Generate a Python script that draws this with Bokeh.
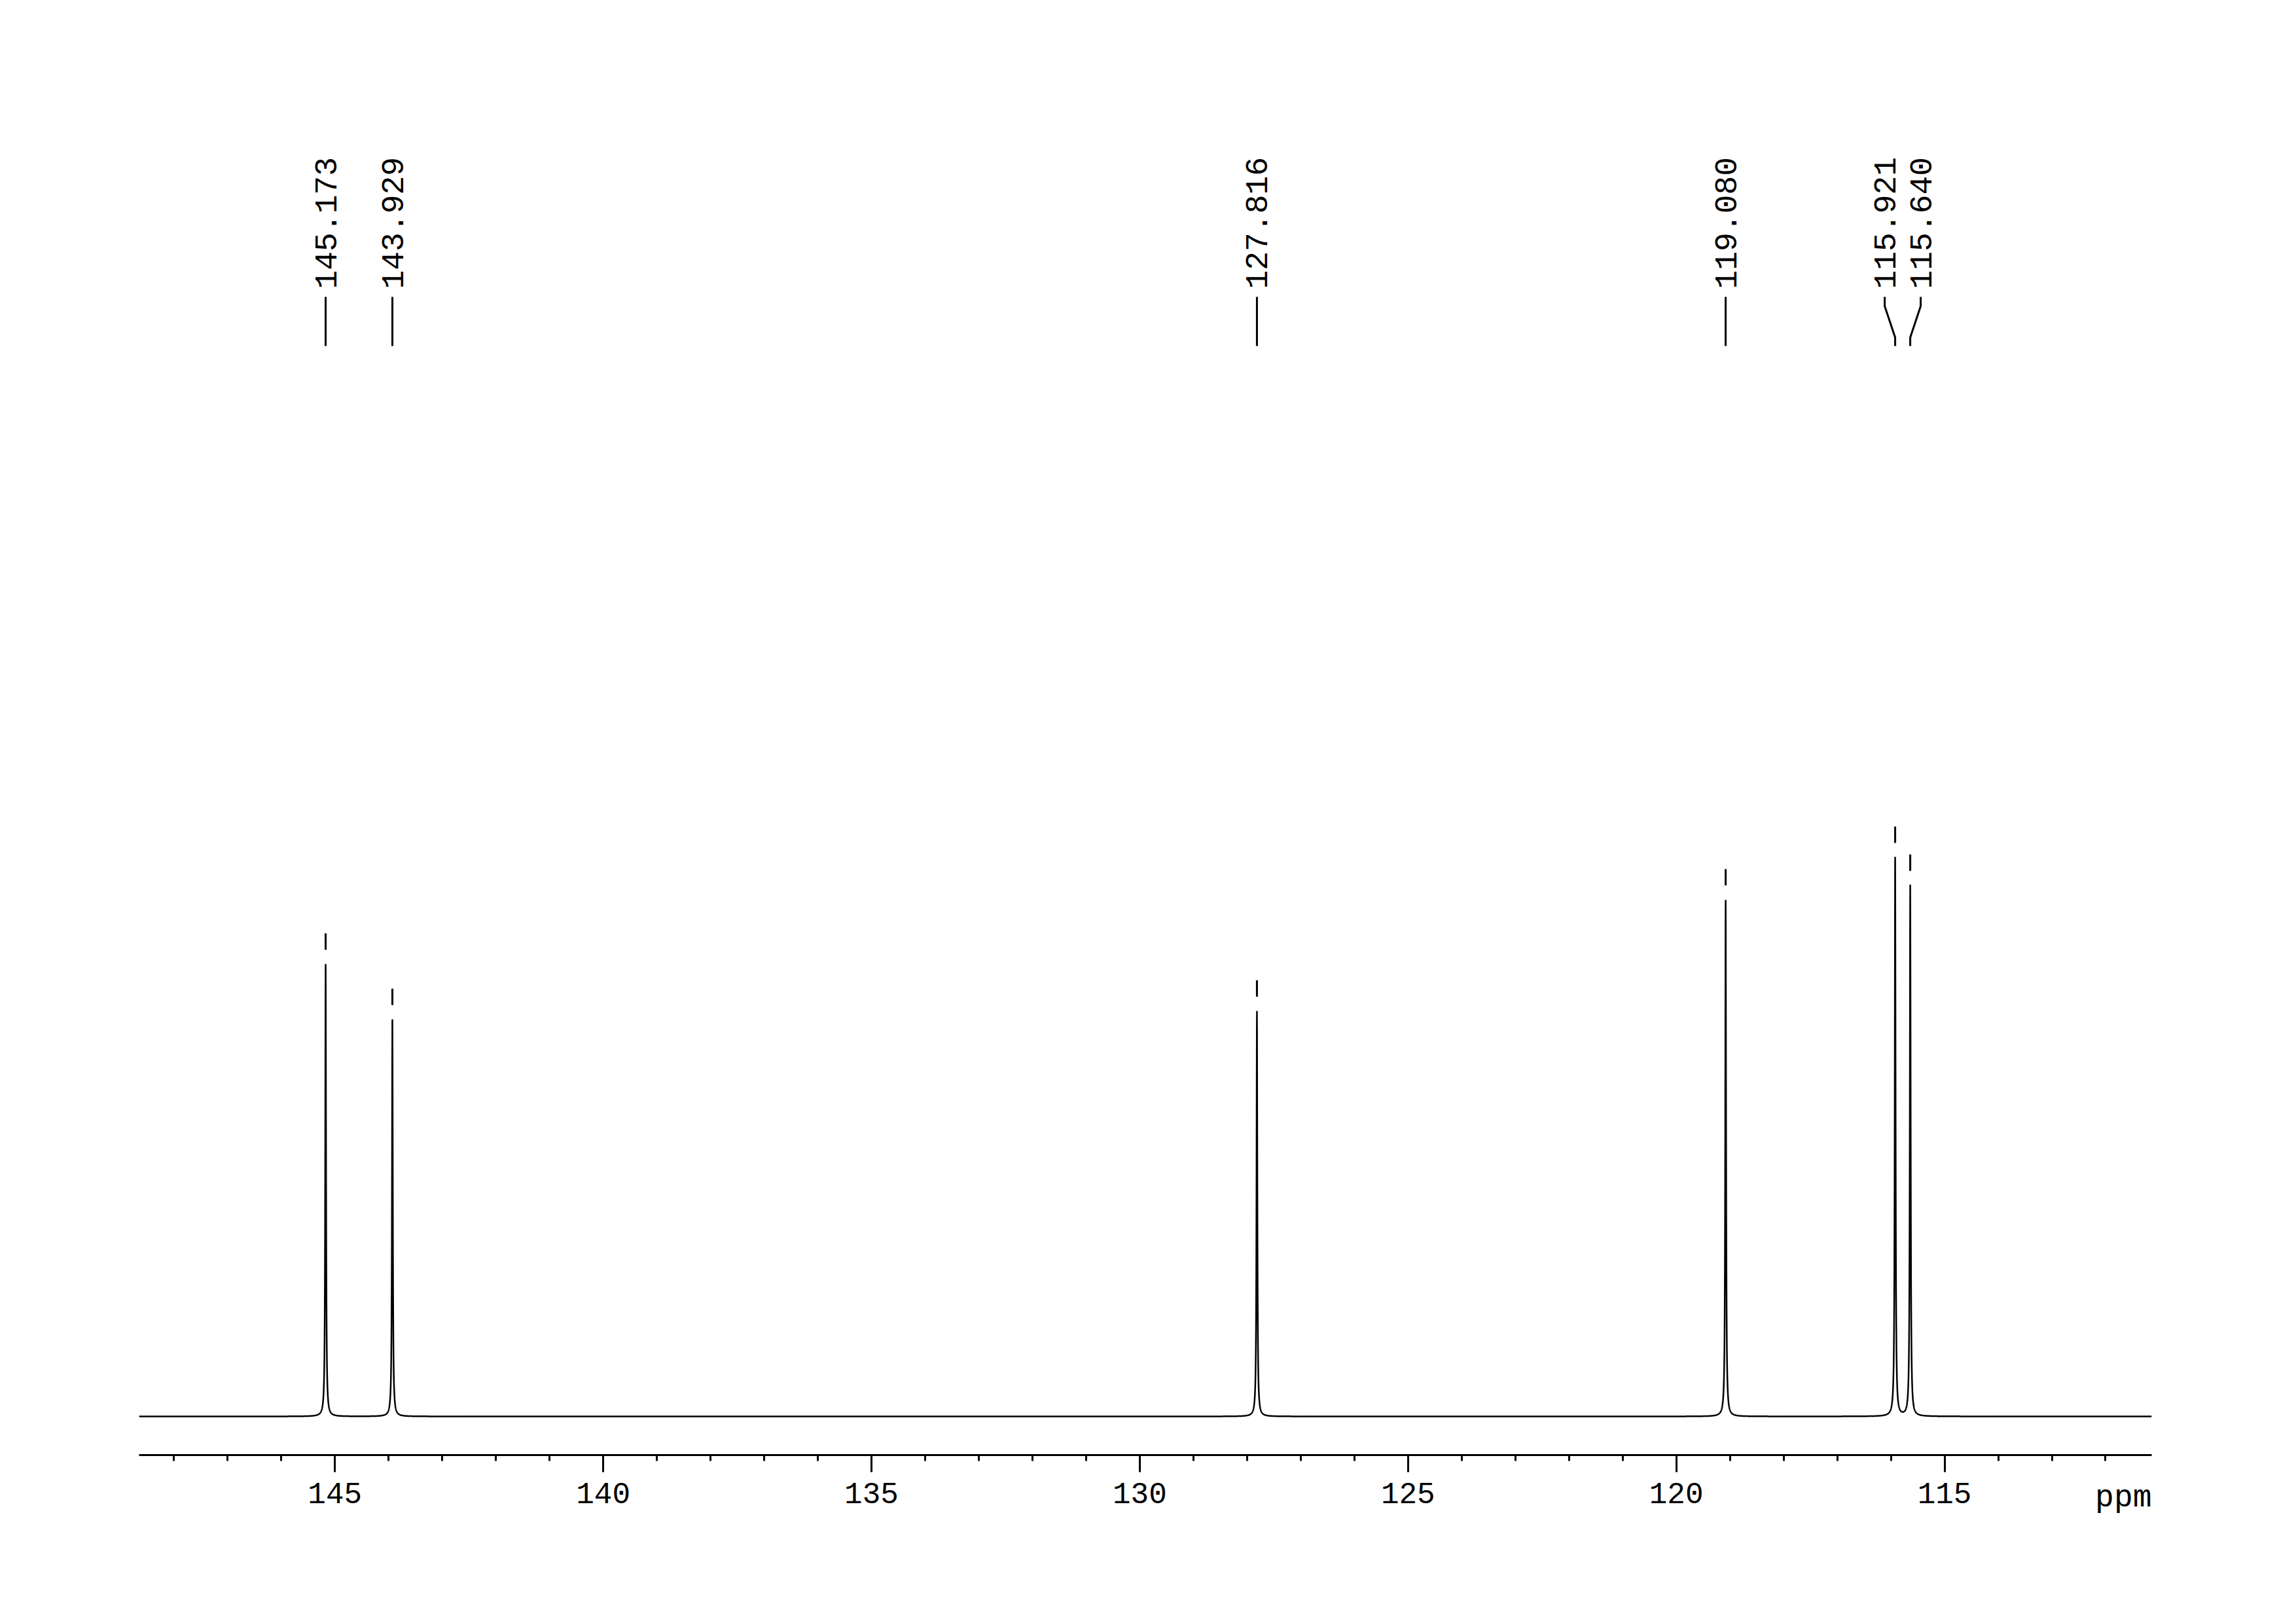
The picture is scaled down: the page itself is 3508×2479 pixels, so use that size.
import numpy as np
from bokeh.plotting import figure
from bokeh.models import Range1d, FixedTicker
from bokeh.core.properties import value
from bokeh.embed import file_html
from bokeh.resources import INLINE

# ---------------- data ----------------
peak_ppm = [145.173, 143.929, 127.816, 119.080, 115.921, 115.640]
peak_height = [80.9, 71.0, 72.5, 92.4, 100.0, 95.0]   # relative intensity
peak_labels = ["145.173", "143.929", "127.816", "119.080", "115.921", "115.640"]
peak_hwhm = 0.009  # ppm
tick_values = [145, 140, 135, 130, 125, 120, 115]
tick_labels = ["145", "140", "135", "130", "125", "120", "115"]
minor_tick_values = list(range(112, 149))
ppm_left, ppm_right = 148.65, 111.14
axis_unit = "ppm"

# ---------------- layout ----------------
W, H = 3500, 2470
FRAME_LEFT_PAGE, FRAME_RIGHT_PAGE = 212, 3287
FRAME_TOP_PAGE, FRAME_BOTTOM_PAGE = 8, 2222
BASELINE_PAGE = 2163
PX_PER_UNIT = 8.54
FONT = "Liberation Mono"


def dy(page_y):
    return (BASELINE_PAGE - page_y) / PX_PER_UNIT


frame_w = FRAME_RIGHT_PAGE - FRAME_LEFT_PAGE
px_per_ppm = frame_w / (ppm_left - ppm_right)

p = figure(width=W, height=H, output_backend="svg", toolbar_location=None,
           x_range=Range1d(ppm_left, ppm_right),
           y_range=Range1d(dy(FRAME_BOTTOM_PAGE), dy(FRAME_TOP_PAGE)),
           y_axis_location=None,
           min_border_left=FRAME_LEFT_PAGE,
           min_border_right=W - FRAME_RIGHT_PAGE,
           min_border_top=FRAME_TOP_PAGE,
           min_border_bottom=H - FRAME_BOTTOM_PAGE)
p.grid.visible = False
p.outline_line_color = None
p.background_fill_color = "white"
p.border_fill_color = "white"

# ---------------- spectrum ----------------
xs = np.concatenate([np.arange(ppm_right, ppm_left, 0.002), np.array(peak_ppm)])
xs = np.sort(xs)
ys = np.zeros_like(xs)
for c, h in zip(peak_ppm, peak_height):
    ys += h * peak_hwhm ** 2 / ((xs - c) ** 2 + peak_hwhm ** 2)
p.line(xs, ys, line_color="black", line_width=2.5)

# peak-top markers
p.segment(x0=peak_ppm, y0=[h + 22 / PX_PER_UNIT for h in peak_height],
          x1=peak_ppm, y1=[h + 47 / PX_PER_UNIT for h in peak_height],
          line_color="black", line_width=3)

# ---------------- peak labels with spreading ----------------
MIN_SEP = 55.0
peak_px = [(ppm_left - v) * px_per_ppm for v in peak_ppm]
order = sorted(range(len(peak_px)), key=lambda i: peak_px[i])
label_px = [0.0] * len(peak_px)
clusters = []
for i in order:
    if clusters and peak_px[i] - peak_px[clusters[-1][-1]] < MIN_SEP:
        clusters[-1].append(i)
    else:
        clusters.append([i])
for cl in clusters:
    mean = sum(peak_px[i] for i in cl) / len(cl)
    n = len(cl)
    for k, i in enumerate(cl):
        label_px[i] = mean + (k - (n - 1) / 2) * MIN_SEP
label_ppm = [ppm_left - v / px_per_ppm for v in label_px]

p.text(x=label_ppm, y=[dy(441)] * len(label_ppm), text=peak_labels,
       angle=np.pi / 2, text_align="left", text_baseline="middle",
       text_font=value(FONT), text_font_size="48px", text_color="black")

cx, cy = [], []
for lp, pp in zip(label_ppm, peak_ppm):
    cx.append([lp, lp, pp, pp])
    cy.append([dy(453), dy(467), dy(515), dy(528)])
p.multi_line(xs=cx, ys=cy, line_color="black", line_width=3)

# ---------------- axis ----------------
ax = p.xaxis[0]
ax.ticker = FixedTicker(ticks=tick_values, minor_ticks=minor_tick_values)
ax.major_label_overrides = {v: s for v, s in zip(tick_values, tick_labels)}
ax.axis_line_width = 3
ax.axis_line_color = "black"
ax.major_tick_line_width = 3
ax.minor_tick_line_width = 3
ax.major_tick_line_color = "black"
ax.minor_tick_line_color = "black"
ax.major_tick_in = 0
ax.major_tick_out = 26
ax.minor_tick_in = 0
ax.minor_tick_out = 9
ax.major_label_standoff = 16
ax.major_label_text_font = FONT
ax.major_label_text_font_size = "46px"
ax.major_label_text_color = "black"

# unit label at the right end of the axis, level with the tick labels
ax.axis_label_standoff = -38
ax.axis_label_text_font = FONT
ax.axis_label_text_font_size = "48px"
ax.axis_label_text_font_style = "normal"
ax.axis_label_text_color = "black"
ax.axis_label_align = "start"
# label is centred on the axis end; trailing no-break spaces pull "ppm" inside
ax.axis_label = axis_unit + "\u00a0" * 3

open("out.html", "w").write(file_html(p, INLINE))
